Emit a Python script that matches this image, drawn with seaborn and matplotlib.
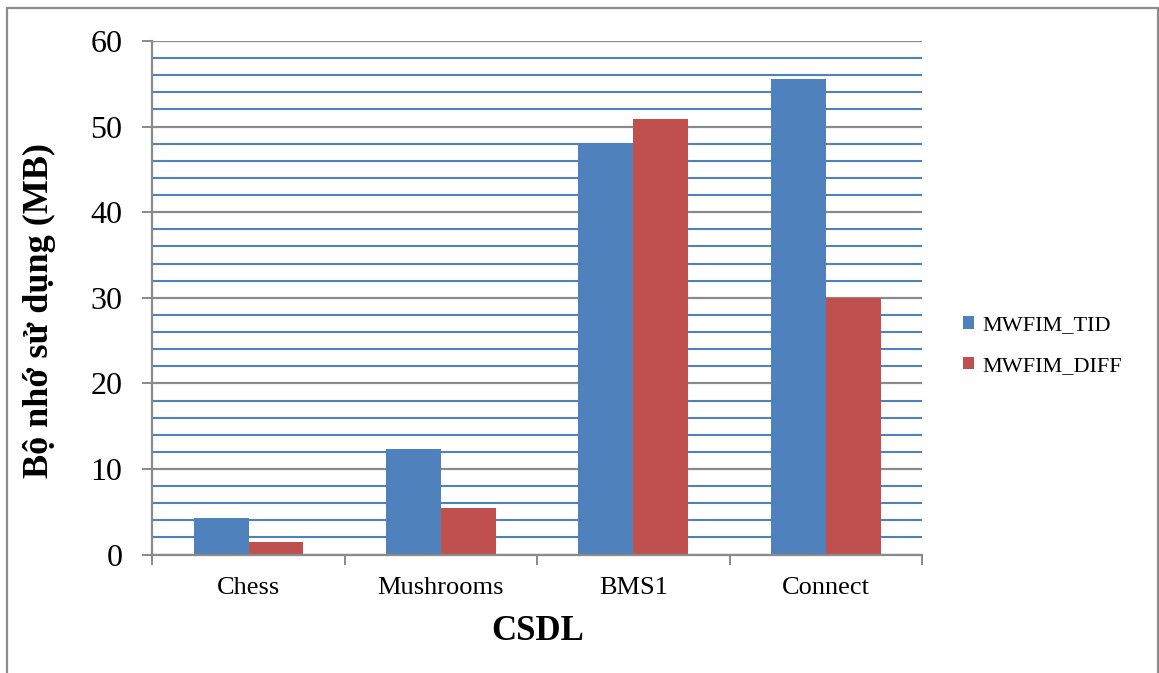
import matplotlib
matplotlib.use("Agg")
import matplotlib.pyplot as plt
from matplotlib.ticker import MultipleLocator, FixedLocator
from matplotlib.lines import Line2D
from matplotlib.patches import Patch
import pandas as pd
import seaborn as sns

# Memory usage (MB) per dataset for the two algorithms
datasets = ["Chess", "Mushrooms", "BMS1", "Connect"]
series_names = ["MWFIM_TID", "MWFIM_DIFF"]
mwfim_tid = [4.3, 12.3, 48.05, 55.55]
mwfim_diff = [1.5, 5.4, 50.85, 30.0]
y_ticks = [0, 10, 20, 30, 40, 50, 60]

colors = {"MWFIM_TID": "#4F81BD", "MWFIM_DIFF": "#C0504D"}

df = pd.DataFrame({
    "CSDL": datasets * 2,
    "series": [series_names[0]] * len(datasets) + [series_names[1]] * len(datasets),
    "value": mwfim_tid + mwfim_diff,
})

sns.set_style("white")
plt.rcParams["font.family"] = ["Liberation Serif", "DejaVu Serif"]
plt.rcParams["text.color"] = "black"
plt.rcParams["axes.labelcolor"] = "black"
plt.rcParams["xtick.labelcolor"] = "black"
plt.rcParams["ytick.labelcolor"] = "black"

fig = plt.figure(figsize=(11.59, 6.73), dpi=100)
ax = fig.add_axes([152.3 / 1159, 1 - 554.6 / 673, (922 - 152.3) / 1159, (554.6 - 41) / 673])

sns.barplot(data=df, x="CSDL", y="value", hue="series", order=datasets,
            hue_order=series_names, palette=colors, width=0.5714, gap=0,
            saturation=1, edgecolor="none", linewidth=0, ax=ax, legend=False)

ax.set_xlim(-0.5, len(datasets) - 0.5)
ax.set_ylim(0, 60)

# y axis: major ticks every 10 (gray grid), minor every 2 (blue grid)
ax.yaxis.set_major_locator(FixedLocator(y_ticks))
ax.yaxis.set_minor_locator(MultipleLocator(2))
ax.set_axisbelow(True)
ax.grid(which="major", axis="y", color="#8a8a8a", linewidth=1.6)
ax.grid(which="minor", axis="y", color="#4F81BD", linewidth=1.5)
ax.grid(which="both", axis="x", visible=False)

ax.tick_params(axis="y", which="major", direction="out", length=7.5, width=1.4,
               color="#8a8a8a", left=True, pad=14, labelsize=23)
ax.tick_params(axis="y", which="minor", length=0)

# x axis: labels at category centres, tick marks on the category boundaries
ax.xaxis.set_minor_locator(FixedLocator([i - 0.5 for i in range(len(datasets) + 1)]))
ax.tick_params(axis="x", which="major", length=0, pad=16, labelsize=19)
ax.tick_params(axis="x", which="minor", direction="out", length=7, width=1.4,
               color="#8a8a8a", bottom=True)

for side in ["top", "right"]:
    ax.spines[side].set_visible(False)
for side in ["left", "bottom"]:
    ax.spines[side].set_color("#8a8a8a")
    ax.spines[side].set_linewidth(1.6)

ax.set_xlabel("CSDL", fontsize=25, fontweight="bold")
ax.set_ylabel("Bộ nhớ sử dụng (MB)", fontsize=26, fontweight="bold")
ax.xaxis.set_label_coords(0.5, -0.118)
ax.yaxis.set_label_coords(-0.125, 0.476)

handles = [Patch(facecolor=colors[s], edgecolor="none", label=s) for s in series_names]
fig.legend(handles=handles, loc="center left", bbox_to_anchor=(963 / 1159, 1 - 346 / 673),
           frameon=False, fontsize=16, handlelength=0.5, handleheight=0.5,
           handletextpad=0.35, labelspacing=0.95, borderpad=0, borderaxespad=0)

# outer chart frame
frame_kw = dict(color="#8c8c8c", linewidth=1.6, transform=fig.transFigure)
fig.add_artist(Line2D([7 / 1159, 7 / 1159], [0, 1 - 8 / 673], **frame_kw))
fig.add_artist(Line2D([7 / 1159, 1157.5 / 1159], [1 - 8 / 673, 1 - 8 / 673], **frame_kw))
fig.add_artist(Line2D([1157.5 / 1159, 1157.5 / 1159], [0, 1 - 8 / 673], **frame_kw))

fig.savefig("out.png", dpi=100, facecolor="white")
